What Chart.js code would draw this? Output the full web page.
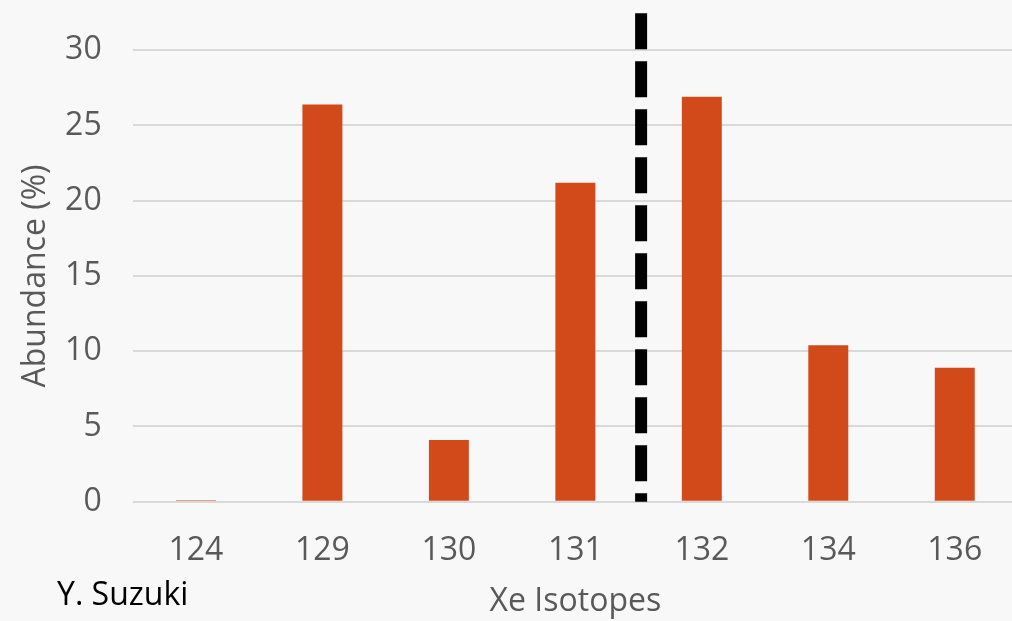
<!DOCTYPE html>
<html>
<head>
<meta charset="utf-8">
<script src="https://cdn.jsdelivr.net/npm/chart.js@4/dist/chart.umd.min.js"></script>
<style>
    html, body { margin: 0; padding: 0; background: #f8f8f8; overflow: hidden; }
    #wrap { position: relative; width: 1024px; height: 621px; }
    #credit {
        position: absolute; left: 57px; top: 572px;
        font-family: 'Open Sans', sans-serif; font-size: 32px; color: #000;
        line-height: 42px;
    }
</style>
</head>
<body>
<div id="wrap">
    <canvas id="isoChart"></canvas>
    <div id="credit">Y. Suzuki</div>
</div>
<script>
// 同位素 (横轴类别)
const isotopes = ['124', '129', '130', '131', '132', '134', '136'];
// 丰度 (%)
const abundance = [0.1, 26.4, 4.1, 21.2, 26.9, 10.4, 8.9];
// 纵轴刻度
const yTicks = [0, 5, 10, 15, 20, 25, 30];
// 分隔虚线位置 (131 与 132 之间) 以及顶端数值
const dividerAt = 3.52;
const dividerTop = 32.45;

const grayText = '#595959';
const font = 'Open Sans';

// 画虚线
const dividerPlugin = {
    id: 'divider',
    afterDatasetsDraw(chart) {
        const x = chart.scales.x.getPixelForValue(dividerAt);
        const yTop = chart.scales.y.getPixelForValue(dividerTop);
        const yBottom = chart.scales.y.getPixelForValue(0);
        const ctx = chart.ctx;
        ctx.save();
        ctx.strokeStyle = '#000';
        ctx.lineWidth = 12;
        ctx.setLineDash([36, 12]);
        ctx.beginPath();
        ctx.moveTo(x, yTop);
        ctx.lineTo(x, yBottom);
        ctx.stroke();
        ctx.restore();
    }
};

const ctx = document.getElementById('isoChart').getContext('2d');
new Chart(ctx, {
    type: 'bar',
    data: {
        labels: isotopes,
        datasets: [{
            label: 'Abundance',
            data: abundance,
            backgroundColor: '#d24a19',
            categoryPercentage: 1,
            barPercentage: 0.316
        }]
    },
    options: {
        responsive: true,
        maintainAspectRatio: false,
        animation: false,
        layout: { padding: { top: 50, left: 17, right: 6, bottom: 0 } },
        plugins: {
            legend: { display: false },
            tooltip: { enabled: false }
        },
        scales: {
            x: {
                grid: { display: false },
                border: { display: false },
                ticks: { color: grayText, font: { family: font, size: 32 }, padding: 22, maxRotation: 0 },
                title: { display: true, text: 'Xe Isotopes', color: grayText, font: { family: font, size: 32 }, padding: { top: 0, bottom: 0 } },
                afterFit(scale) { scale.height = 119.3; }
            },
            y: {
                min: 0,
                max: 30,
                afterBuildTicks(scale) {
                    scale.ticks = yTicks.map(v => ({ value: v }));
                },
                grid: { color: '#d9d9d9', lineWidth: 2, drawTicks: false },
                border: { display: false },
                ticks: { color: grayText, font: { family: font, size: 32 }, padding: 31 },
                title: { display: true, text: 'Abundance (%)', color: grayText, font: { family: font, size: 32 }, padding: { top: 0, bottom: 4 } },
                afterFit(scale) { scale.width = 115.7; }
            }
        }
    },
    plugins: [dividerPlugin]
});
</script>
</body>
</html>
